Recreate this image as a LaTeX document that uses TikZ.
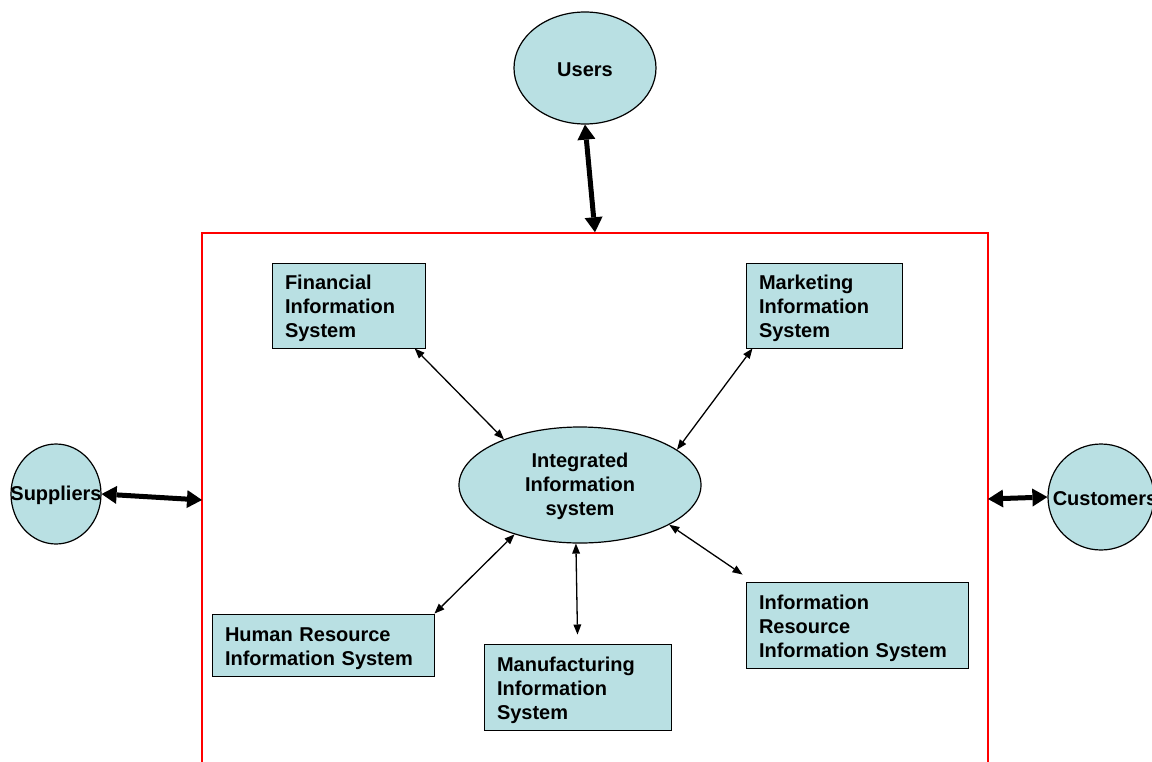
\documentclass[tikz,border=0pt]{standalone}
\usepackage{fontspec}
\setmainfont{Liberation Sans}
\usetikzlibrary{shapes.geometric,arrows.meta}
\definecolor{boxfill}{RGB}{185,224,227}
\begin{document}
\begin{tikzpicture}[x=1pt,y=-1pt,
  font=\fontsize{20}{24}\selectfont\bfseries,
  every label/.style={yshift=-1.5pt},
  sysbox/.style={draw,fill=boxfill,line width=1pt,align=left,inner xsep=13pt,inner ysep=0pt,text height=21pt},
  blob/.style={draw,ellipse,fill=boxfill,line width=1.2pt,inner sep=0pt},
  bigarrow/.style={{Triangle[width=18pt,length=15pt,line width=0pt]}-{Triangle[width=18pt,length=15pt,line width=0pt]},line width=5pt},
  link/.style={{Triangle[width=8pt,length=10pt,line width=0pt]}-{Triangle[width=8pt,length=10pt,line width=0pt]},line width=1.3pt}]
  \useasboundingbox (0,0) rectangle (1152,761);
  \clip (0,0) rectangle (1152,761);
  % frame around the integrated system
  \node[draw=red,line width=1.5pt,minimum width=786pt,minimum height=600pt] (frame) at (595,533) {};
  % outside parties
  \node[blob,minimum width=142pt,minimum height=112pt,label=center:Users] (users) at (585,68) {};
  \node[blob,minimum width=90pt,minimum height=100pt,label=center:Suppliers] (sup) at (56,494) {};
  \node[blob,minimum width=106pt,minimum height=106pt,label={[xshift=4pt]center:Customers}] (cust) at (1101,497) {};
  \coordinate (supin) at (202,500);
  \coordinate (custin) at (988,499);
  % core and subsystems
  \node[blob,minimum width=242pt,minimum height=116pt,label={[align=center]center:Integrated\\Information\\system}] (iis) at (580,485) {};
  \node[sysbox,text width=127pt,minimum height=85pt] (fin) at (348.5,305.5) {Financial\\Information\\System};
  \node[sysbox,text width=130pt,minimum height=85pt] (mkt) at (824,305.5) {Marketing\\Information\\System};
  \node[sysbox,text width=196pt,minimum height=62pt] (hr) at (323,645) {Human Resource\\Information System};
  \node[sysbox,text width=161pt,minimum height=86pt] (mfg) at (577.5,687) {Manufacturing\\Information\\System};
  \node[sysbox,text width=196pt,minimum height=86pt] (irs) at (857,625) {Information\\Resource\\Information System};
  % connectors
  \draw[bigarrow] (users.south) -- (frame.north);
  \draw[bigarrow] (sup.east) -- (supin);
  \draw[bigarrow] (custin) -- (cust.west);
  \draw[link] (fin.-33) -- (iis.149);
  \draw[link] (mkt.211) -- (iis.20);
  \draw[link] (hr.north east) -- (iis.217);
  \draw[link] ([yshift=9pt]mfg.north) -- (iis.266);
  \draw[link] ([shift={(-3pt,7pt)}]irs.north west) -- (iis.336);
\end{tikzpicture}
\end{document}
